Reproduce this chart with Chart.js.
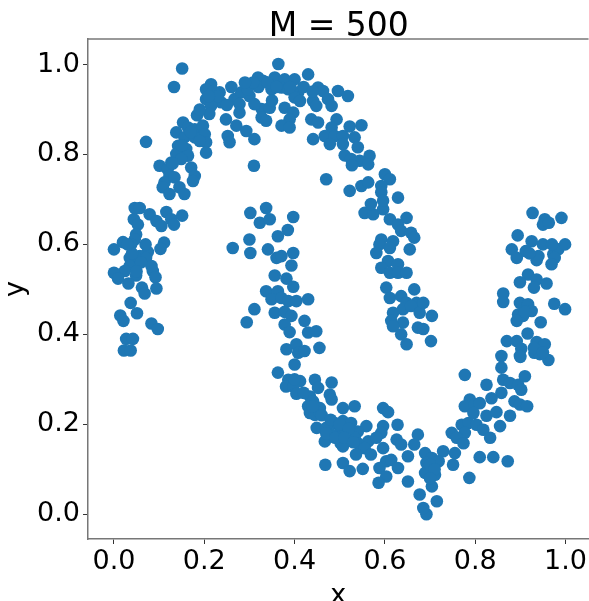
<!DOCTYPE html>
<html>
<head>
<meta charset="utf-8">
<script src="https://cdn.jsdelivr.net/npm/chart.js@4/dist/chart.umd.min.js"></script>
<style>
  html, body { margin: 0; padding: 0; overflow: hidden; background: #fff; }
</style>
</head>
<body>
<canvas id="moons" width="589" height="610"></canvas>
<script>
const FONT = "'DejaVu Sans', sans-serif";
const POINT_COLOR = "#1f77b4";

const chartTitle = "M = 500";
const xTicks = [0, 0.2, 0.4, 0.6, 0.8, 1.0];
const yTicks = [0, 0.2, 0.4, 0.6, 0.8, 1.0];
const xRange = [-0.0575, 1.051];
const yRange = [-0.055, 1.0567];

// upper arc: left tip, rising side, top
const upperLeft = [
    [.046,.681],[.057,.681],[.079,.667],[.116,.672],[.127,.656],[.151,.664],[.094,.652],[.105,.641],
    [.133,.644],[.044,.656],[.053,.644],[.049,.622],[.046,.611],[.020,.605],[.000,.589],[.038,.600],
    [.111,.604],[.103,.590],[.075,.583],[.057,.574],[.035,.570],[.071,.570],[.046,.559],[.035,.552],
    [.083,.552],[.024,.541],[.000,.537],[.009,.524],[.049,.531],[.086,.541],[.092,.527],[.032,.513],
    [.062,.504],[.068,.491],[.094,.502],[.037,.470],[.014,.442],[.021,.430],[.051,.447],[.083,.424],
    [.097,.412],[.027,.390],[.042,.390],[.022,.364],[.037,.364],
    [.04,.58],[.06,.56],[.05,.54],[.03,.60],[.07,.60]
];

const upperRise = [
    [.151,.991],[.133,.950],[.071,.828],[.101,.775],[.184,.887],[.215,.956],[.204,.945],[.234,.938],
    [.204,.923],[.218,.927],[.237,.916],[.215,.908],[.211,.890],[.267,.923],[.282,.938],[.296,.945],
    [.278,.912],[.278,.893],[.308,.960],[.311,.912],[.248,.878],[.271,.864],[.293,.852],[.252,.841],
    [.256,.827],[.311,.834],[.153,.871],[.138,.849],[.164,.860],[.179,.856],[.197,.864],[.201,.845],
    [.156,.838],[.179,.838],[.204,.827],[.142,.819],[.160,.812],[.204,.804],[.138,.801],[.164,.797],
    [.127,.782],[.149,.790],[.171,.771],[.119,.767],[.123,.752],[.179,.752],[.175,.741],[.112,.738],
    [.134,.749],[.108,.727],[.145,.727],[.156,.712],[.123,.712],[.310,.775],
    [.22,.94],[.23,.93],[.21,.93],[.26,.95],[.29,.96],[.25,.91],[.19,.90],[.17,.85],[.15,.82],
    [.13,.78],[.19,.83]
];

const upperTop = [
    [.364,1.001],[.319,.971],[.330,.964],[.356,.971],[.378,.967],[.400,.967],[.430,.978],[.349,.945],
    [.371,.949],[.386,.945],[.408,.938],[.400,.927],[.412,.919],[.452,.949],[.463,.941],[.496,.941],
    [.518,.930],[.474,.923],[.482,.908],[.441,.919],[.448,.908],[.327,.901],[.345,.904],[.378,.904],
    [.327,.882],[.337,.875],[.397,.893],[.389,.878],[.371,.864],[.389,.860],[.437,.878],[.452,.871],
    [.493,.878],[.482,.860],[.522,.862],[.548,.865],[.467,.841],[.489,.841],[.507,.841],[.533,.838],
    [.441,.834],[.478,.823],[.507,.823],[.540,.816],[.511,.798],[.525,.790],[.566,.797],[.544,.786],
    [.563,.778],[.527,.776],[.600,.756],[.611,.745],[.548,.730],[.563,.738],[.592,.730],[.592,.716],
    [.629,.704],[.596,.697],[.569,.690],[.470,.745],[.522,.719],
    [.32,.95],[.34,.96],[.36,.95],[.39,.95],[.42,.95],[.44,.94],[.35,.92],[.30,.93]
];

// upper arc: falling right end
const upperFall = [
    [.555,.670],[.574,.667],[.596,.678],[.611,.656],[.648,.659],[.629,.644],[.636,.630],[.658,.626],
    [.665,.615],[.592,.611],[.618,.607],[.588,.600],[.611,.592],[.581,.581],[.655,.589],[.607,.563],
    [.629,.556],[.592,.548],[.611,.537],[.629,.537],[.648,.537],[.603,.504],[.665,.500],[.611,.481],
    [.636,.485],[.648,.470],[.670,.470],[.640,.456],[.658,.463],[.618,.448],[.677,.448],[.614,.430],
    [.640,.426],[.618,.418],[.673,.415],[.636,.400],[.648,.378],[.685,.470],[.704,.441],[.685,.412],
    [.702,.385]
];

// lower arc: left tip and descent
const lowerLeft = [
    [.263,.592],[.300,.611],[.302,.670],[.302,.581],[.294,.427],[.311,.456],
    [.337,.681],[.323,.648],[.345,.656],[.397,.661],[.385,.632],[.363,.618],[.341,.589],[.397,.581],
    [.360,.570],[.371,.574],[.393,.553],[.356,.531],[.382,.524],[.397,.506],[.337,.496],[.363,.496],
    [.349,.478],[.371,.481],[.386,.474],[.404,.474],[.430,.478],[.356,.448],[.378,.450],[.393,.441],
    [.422,.430],[.378,.422],[.389,.405],[.430,.404],[.448,.407],[.382,.367],[.404,.378],[.408,.359],
    [.422,.363],[.455,.370],[.400,.333],[.363,.315]
];

// lower arc: bottom
const lowerBottom = [
    [.386,.299],[.412,.296],[.445,.299],[.482,.293],[.381,.284],[.397,.284],[.452,.281],[.404,.268],
    [.478,.266],[.434,.262],[.482,.255],[.441,.251],[.430,.240],[.456,.236],[.507,.236],[.533,.240],
    [.596,.236],[.607,.227],[.434,.225],[.445,.221],[.456,.225],[.489,.203],[.507,.207],[.525,.203],
    [.559,.196],[.596,.196],[.628,.199],[.449,.192],[.470,.192],[.502,.188],[.540,.184],[.482,.177],
    [.507,.173],[.533,.170],[.592,.181],[.467,.162],[.502,.158],[.540,.158],[.563,.162],[.581,.170],
    [.626,.166],[.636,.155],[.673,.177],[.507,.151],[.555,.147],[.596,.147],[.665,.155],[.536,.133],
    [.569,.133],[.651,.129],[.603,.118],[.614,.121],[.468,.110],[.507,.114],[.588,.103],[.629,.103],
    [.522,.096],[.551,.101],[.603,.084],[.586,.070],[.651,.073],[.677,.044],[.685,.014],
    [.40,.30],[.42,.27],[.44,.24],[.46,.22],[.48,.21],[.50,.20],[.52,.19],[.47,.18],[.49,.17],
    [.51,.17],[.53,.16],[.70,.11],[.71,.10],[.70,.08]
];

// lower arc: rising right side
const lowerRise = [
    [.777,.310],[.825,.288],[.862,.299],[.877,.292],[.895,.288],[.910,.307],[.902,.277],[.858,.270],
    [.887,.251],[.899,.244],[.915,.240],[.836,.258],[.788,.255],[.777,.240],[.799,.244],[.810,.247],
    [.796,.225],[.825,.219],[.847,.227],[.877,.219],[.855,.196],[.770,.199],[.785,.203],[.803,.199],
    [.818,.188],[.748,.181],[.777,.181],[.833,.170],[.759,.170],[.774,.158],[.729,.140],[.755,.136],
    [.810,.127],[.840,.127],[.872,.118],[.751,.110],[.787,.081],[.689,.136],[.704,.125],[.719,.118],
    [.692,.114],[.707,.099],[.689,.092],[.711,.088],[.704,.062],[.715,.029],[.692,.000]
];

const lowerRight = [
    [.927,.670],[.954,.656],[.950,.644],[.963,.648],[.991,.659],[.894,.620],[.925,.607],[.881,.589],
    [.912,.585],[.892,.570],[.940,.574],[.936,.565],[.973,.578],[.984,.589],[.999,.600],[.976,.570],
    [.969,.556],[.917,.533],[.899,.516],[.936,.522],[.930,.504],[.958,.513],[.862,.491],[.862,.472],
    [.899,.470],[.917,.467],[.925,.452],[.895,.444],[.906,.441],[.975,.468],[.999,.456],[.892,.430],
    [.945,.427],[.916,.402],[.870,.385],[.892,.385],[.936,.383],[.954,.378],[.902,.368],[.931,.359],
    [.943,.356],[.858,.352],[.899,.352],[.962,.343],[.858,.326],
    [.90,.35],[.93,.37],[.95,.36],[.91,.45],[.92,.58],[.95,.60],[.97,.60]
];

const groups = [upperLeft, upperRise, upperTop, upperFall, lowerLeft, lowerBottom, lowerRise, lowerRight];

const SPINE = "#777";

// title over the plot area plus the top spine
const frame = {
    id: "frame",
    afterDraw(chart) {
        const { ctx, chartArea } = chart;
        ctx.save();
        ctx.strokeStyle = SPINE;
        ctx.lineWidth = 1.5;
        ctx.beginPath();
        ctx.moveTo(chartArea.left, chartArea.top);
        ctx.lineTo(chartArea.right, chartArea.top);
        ctx.stroke();

        ctx.fillStyle = "#000";
        ctx.font = `33px ${FONT}`;
        ctx.textAlign = "center";
        ctx.textBaseline = "alphabetic";
        ctx.fillText(chartTitle, (chartArea.left + chartArea.right) / 2 + 0.5, 36);
        ctx.restore();
    },
};

const tickFont = { family: FONT, size: 27 };

new Chart(document.getElementById("moons"), {
    type: "scatter",
    data: {
        datasets: groups.map((pts) => ({
            data: pts.map(([x, y]) => ({ x, y })),
            backgroundColor: POINT_COLOR,
            borderWidth: 0,
            pointRadius: 6.3,
            pointHoverRadius: 6.3,
        })),
    },
    options: {
        responsive: false,
        animation: false,
        devicePixelRatio: 1,
        layout: { autoPadding: false, padding: { top: 39, left: 0, right: 0, bottom: 0 } },
        plugins: {
            legend: { display: false },
            tooltip: { enabled: false },
        },
        scales: {
            x: {
                type: "linear",
                min: xRange[0],
                max: xRange[1],
                afterBuildTicks: (s) => { s.ticks = xTicks.map((v) => ({ value: v })); },
                afterFit: (s) => { s.height = 71; },
                ticks: {
                    font: tickFont,
                    color: "#000",
                    padding: 2,
                    maxRotation: 0,
                    callback: (v) => Number(v).toFixed(1),
                },
                grid: { drawOnChartArea: false, tickLength: 5, color: "#333" },
                border: { color: SPINE, width: 1.5 },
                title: {
                    display: true,
                    text: "x",
                    color: "#000",
                    font: { family: FONT, size: 27, lineHeight: 1 },
                    padding: { top: 0, bottom: 1 },
                },
            },
            y: {
                type: "linear",
                min: yRange[0],
                max: yRange[1],
                afterBuildTicks: (s) => { s.ticks = yTicks.map((v) => ({ value: v })); },
                afterFit: (s) => { s.width = 88; },
                ticks: {
                    font: tickFont,
                    color: "#000",
                    padding: 3,
                    callback: (v) => Number(v).toFixed(1),
                },
                grid: { drawOnChartArea: false, tickLength: 5, color: "#333" },
                border: { color: SPINE, width: 1.5 },
                title: {
                    display: true,
                    text: "y",
                    color: "#000",
                    font: { family: FONT, size: 27, lineHeight: 1 },
                    padding: { top: 2.5, bottom: 0 },
                },
            },
        },
    },
    plugins: [frame],
});
</script>
</body>
</html>
